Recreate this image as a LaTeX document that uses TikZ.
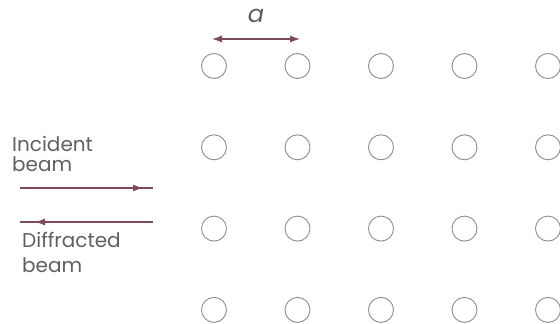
\documentclass[tikz,border=0pt]{standalone}
\usepackage{fontspec}
\setmainfont{Poppins}
\usetikzlibrary{arrows.meta,decorations.markings}

\definecolor{beamred}{HTML}{7D4A5C}
\definecolor{sitegray}{HTML}{8C8C8C}
\definecolor{textgray}{HTML}{606060}

\begin{document}
\begin{tikzpicture}[
  x=1pt, y=-1pt,
  every node/.append style={font=\fontsize{20}{20}\selectfont, text=textgray},
  site/.style={draw=sitegray, circle, line width=0.9pt, minimum size=25pt,
    inner sep=0pt},
  spacing/.style={draw=beamred, line width=1.1pt,
    {Latex[length=10pt,width=7pt]}-{Latex[length=10pt,width=7pt]}},
  beamline/.style={draw=beamred, line width=1.1pt},
  tipat/.style={postaction={decorate, decoration={markings,
    mark=at position #1 with {\arrow{Latex[length=10pt,width=7pt]}}}}},
  beamlabel/.style={anchor=north west, align=left, inner sep=0pt},
]
\useasboundingbox (0,0) rectangle (560,324);

% ------------------------------------------------------------ the lattice
% Four rows of five sites; the last column runs off the right edge.
\foreach \c in {0,...,4}{
  \foreach \r in {0,...,3}{
    \node[site] (s-\c-\r) at (214+83.5*\c, 66+81.3*\r) {};
  }
}

% ---------------------------------------------------------- the spacing a
\coordinate (gap-l) at (212,39);
\coordinate (gap-r) at (300,39);
\draw[spacing] (gap-l) -- (gap-r);
\node[font=\fontsize{24}{24}\selectfont\itshape] (a-label) at (256,16) {a};

% -------------------------------------------------------------- the beams
\node[beamlabel, font=\fontsize{20}{20}\selectfont] (inc-label) at (12,136)
  {Incident\\beam};
\coordinate (inc-start) at (20,188);
\coordinate (inc-end) at (153,188);
\draw[beamline, tipat=0.925] (inc-start) -- (inc-end);

\coordinate (dif-start) at (153,222);
\coordinate (dif-end) at (20,222);
\draw[beamline, tipat=0.887] (dif-start) -- (dif-end);
\node[beamlabel, font=\fontsize{20}{25}\selectfont] (dif-label) at (22,232)
  {Diffracted\\beam};

\end{tikzpicture}
\end{document}
